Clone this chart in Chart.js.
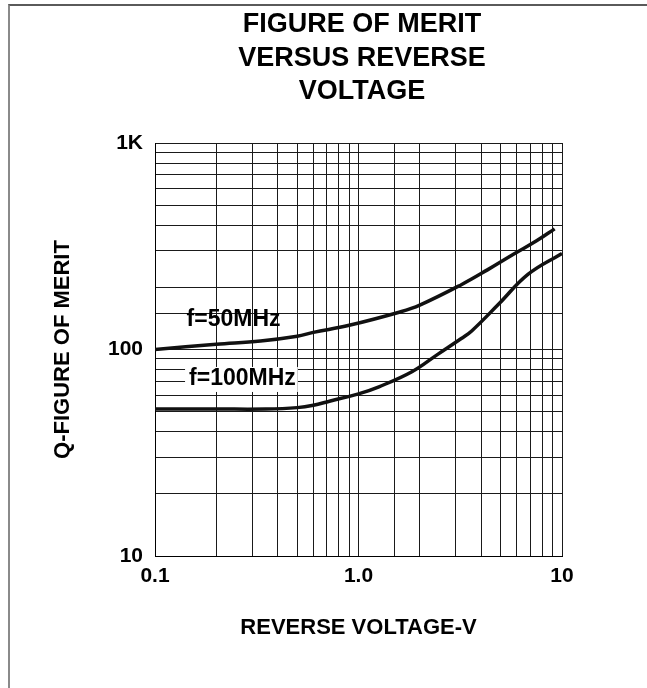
<!DOCTYPE html>
<html>
<head>
<meta charset="utf-8">
<script src="https://cdn.jsdelivr.net/npm/chart.js@4.4.1/dist/chart.umd.min.js"></script>
<style>
  body { margin: 0; background: #fff; }
  #wrap { position: relative; width: 647px; height: 688px; }
  #frame {
    position: absolute; left: 8px; top: 4px; right: 0; bottom: 0;
    border-top: 2px solid #5a5a5a; border-left: 2px solid #8a8a8a;
    pointer-events: none;
  }
</style>
</head>
<body>
<div id="wrap">
  <canvas id="myChart" width="647" height="688"></canvas>
  <div id="frame"></div>
</div>
<script>
// reverse voltage (V) and Q
let volts50 = [0.1, 0.2, 0.33, 0.5, 0.6, 0.9, 1.6, 2.0, 3.2, 4.3, 5.8, 7.5, 9.2];
let q50 = [100, 106, 110, 116, 121, 131, 152, 164, 206, 243, 290, 336, 384];

let volts100 = [0.1, 0.2, 0.35, 0.5, 0.6, 0.72, 1.0, 1.26, 1.83, 2.46, 3.2, 3.6, 4.86, 6.8, 10];
let q100 = [51.5, 51.5, 51.5, 52.3, 53.7, 56.2, 61, 66, 78, 95, 113, 123, 165, 231, 292];

let xTickLabels = { 0.1: "0.1", 1: "1.0", 10: "10" };
let yTickLabels = { 10: "10", 100: "100", 1000: "1K" };

let titleLines = ["FIGURE OF MERIT", "VERSUS REVERSE", "VOLTAGE"];
let curveLabels = [
  { text: "f=50MHz", v: 0.143, q: 140, box: false },
  { text: "f=100MHz", v: 0.147, q: 72, box: true }
];

const FONT = "'Liberation Sans', Arial, sans-serif";

function toPoints(xs, ys) {
  return xs.map((x, i) => ({ x: x, y: ys[i] }));
}

function findLabel(table, value) {
  for (let key in table) {
    if (Math.abs(Number(key) - value) < 1e-9 * Number(key)) return table[key];
  }
  return "";
}

// --------------- title + curve labels ------------------
const textPlugin = {
  id: "textPlugin",
  afterDatasetsDraw(chart) {
    const c = chart.ctx;
    const xs = chart.scales.x;
    const ys = chart.scales.y;
    c.save();
    c.fillStyle = "#000";
    c.textBaseline = "middle";

    c.font = "bold 23px " + FONT;
    c.textAlign = "left";
    curveLabels.forEach(lab => {
      let px = xs.getPixelForValue(lab.v);
      let py = ys.getPixelForValue(lab.q);
      let w = c.measureText(lab.text).width;
      if (lab.box) {
        c.fillStyle = "#fff";
        c.fillRect(px - 4, py - 12, w + 6, 25);
        c.fillStyle = "#000";
      }
      c.fillText(lab.text, px, py);
    });

    c.font = "bold 27px " + FONT;
    c.textAlign = "center";
    titleLines.forEach((line, i) => {
      c.fillText(line, 362, 25 + i * 33.5);
    });
    c.restore();
  }
};

const ctx = document.getElementById("myChart");
new Chart(ctx, {
  type: "line",
  data: {
    datasets: [
      {
        label: "f=50MHz",
        data: toPoints(volts50, q50),
        borderColor: "#111",
        borderWidth: 3.5,
        pointRadius: 0,
        tension: 0.4
      },
      {
        label: "f=100MHz",
        data: toPoints(volts100, q100),
        borderColor: "#111",
        borderWidth: 3.5,
        pointRadius: 0,
        tension: 0.4
      }
    ]
  },
  options: {
    responsive: false,
    animation: false,
    devicePixelRatio: 1,
    layout: { padding: { left: 0, right: 85, top: 143, bottom: 0 } },
    plugins: {
      legend: { display: false },
      tooltip: { enabled: false },
      title: { display: false }
    },
    scales: {
      x: {
        type: "logarithmic",
        min: 0.1,
        max: 10,
        afterFit: scale => { scale.height = 132; },
        grid: { color: "#1a1a1a", lineWidth: 1, drawTicks: false },
        border: { color: "#000", width: 1 },
        ticks: {
          autoSkip: false,
          maxRotation: 0,
          minRotation: 0,
          padding: 8,
          color: "#000",
          font: { family: FONT, size: 21, weight: "bold" },
          callback: value => findLabel(xTickLabels, value)
        },
        title: {
          display: true,
          text: "REVERSE VOLTAGE-V",
          color: "#000",
          font: { family: FONT, size: 22, weight: "bold" },
          padding: { top: 0, bottom: 47 }
        }
      },
      y: {
        type: "logarithmic",
        min: 10,
        max: 1000,
        afterFit: scale => { scale.width = 155; },
        grid: { color: "#1a1a1a", lineWidth: 1, drawTicks: false },
        border: { color: "#000", width: 1 },
        ticks: {
          autoSkip: false,
          padding: 12,
          color: "#000",
          font: { family: FONT, size: 21, weight: "bold" },
          callback: value => findLabel(yTickLabels, value)
        },
        title: {
          display: true,
          text: "Q-FIGURE OF MERIT",
          color: "#000",
          font: { family: FONT, size: 22, weight: "bold" },
          padding: { top: 50, bottom: 0 }
        }
      }
    }
  },
  plugins: [textPlugin]
});
</script>
</body>
</html>
